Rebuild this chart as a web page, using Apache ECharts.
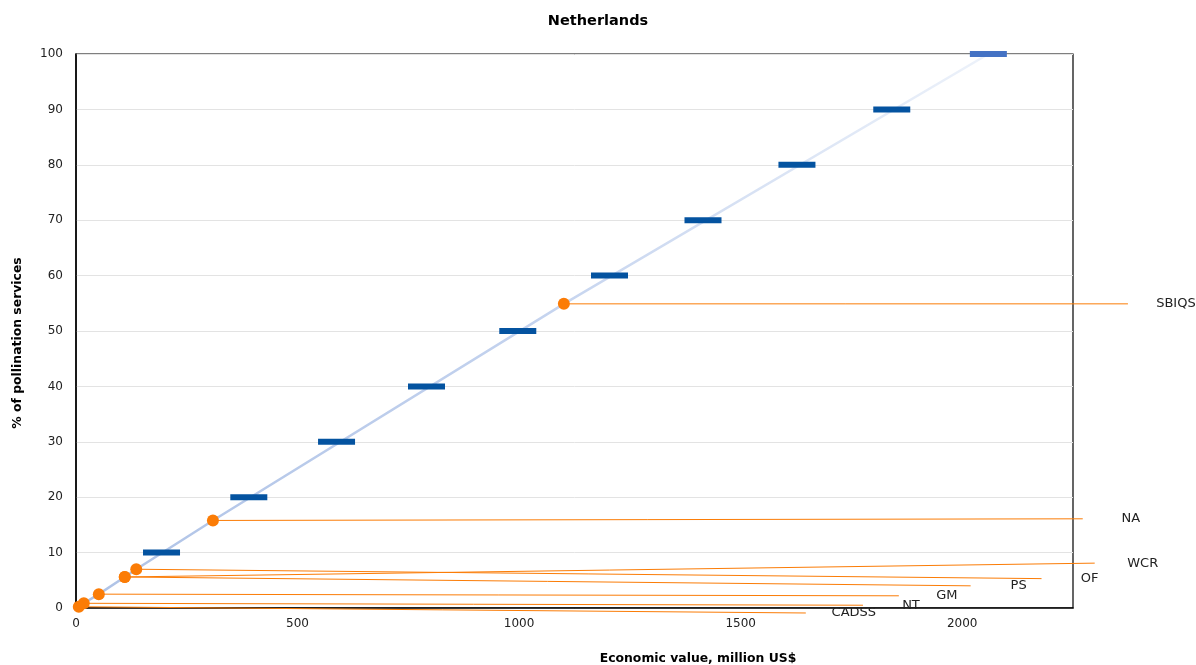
<!DOCTYPE html>
<html>
<head>
<meta charset="utf-8">
<script src="https://cdn.jsdelivr.net/npm/echarts@6/dist/echarts.min.js"></script>
<style>html,body{margin:0;padding:0;background:#fff}#chart{width:1196px;height:665px}</style>
</head>
<body>
<div id="chart"></div>
<script>
// Crop groups (points on the cumulative curve)
const crops = ['SBIQS', 'NA', 'WCR', 'OF', 'PS', 'GM', 'NT', 'CADSS'];
const cropValue = [1101, 309, 110, 136, 110, 51.5, 17.6, 6.3];   // million US$ (cumulative)
const cropShare = [54.9, 15.8, 5.6, 7.0, 5.6, 2.5, 0.85, 0.23];  // % of pollination services
// Callout label anchors (data units)
const calloutValue = [2374, 2272, 2299, 2179, 2019, 1857, 1776, 1647];
const calloutShare = [54.9, 16.1, 8.1, 5.3, 4.0, 2.2, 0.5, -0.9];
// Decile markers
const decileShare = [10, 20, 30, 40, 50, 60, 70, 80, 90, 100];
const decileValue = [193, 390, 588, 791, 997, 1204, 1415, 1627, 1841, 2059];
// Curve end points
const curveStart = [0, 0];
const curveEnd = [2059, 100];

const FONT = 'DejaVu Sans';
const ORANGE = '#fb7c06';

const curvePts = [curveStart];
cropValue.map((v, i) => [v, cropShare[i]]).sort((a, b) => a[0] - b[0] || a[1] - b[1]).forEach(p => curvePts.push(p));
curvePts.push(curveEnd);

const calloutData = crops.map((name, i) => [cropValue[i], cropShare[i], calloutValue[i], calloutShare[i]]);

const chart = echarts.init(document.getElementById('chart'), null, { renderer: 'canvas' });
chart.setOption({
  animation: false,
  backgroundColor: '#fff',
  title: {
    text: 'Netherlands', left: 'center', top: 9,
    textStyle: { fontFamily: FONT, fontSize: 14.5, fontWeight: 'bold', color: '#000' }
  },
  grid: { left: 76, right: 123, top: 54, bottom: 57, outerBoundsMode: 'none', containLabel: false,
          show: true, borderColor: '#000', borderWidth: 1.2 },
  xAxis: {
    type: 'value', min: 0, max: 2250, interval: 500,
    name: 'Economic value, million US$', nameLocation: 'middle', nameGap: 45,
    nameTextStyle: { fontFamily: FONT, fontSize: 12.4, fontWeight: 'bold', color: '#000', padding: [0, 0, 0, 247] },
    axisLine: { show: true, lineStyle: { color: '#000', width: 1.5 } },
    axisTick: { show: false },
    splitLine: { show: false },
    axisLabel: { fontFamily: FONT, fontSize: 12, color: '#222', showMaxLabel: false, margin: 10,
                 formatter: v => String(v) }
  },
  yAxis: {
    type: 'value', min: 0, max: 100, interval: 10,
    name: '% of pollination services', nameLocation: 'middle', nameGap: 52,
    nameTextStyle: { fontFamily: FONT, fontSize: 12.4, fontWeight: 'bold', color: '#000', padding: [0, 24, 0, 0] },
    axisLine: { show: true, lineStyle: { color: '#000', width: 1.5 } },
    axisTick: { show: false },
    splitLine: { show: true, lineStyle: { color: '#e3e3e3', width: 1 } },
    axisLabel: { fontFamily: FONT, fontSize: 12, color: '#222', margin: 13, formatter: v => String(v) }
  },
  series: [
    {
      type: 'line', name: 'cumulative', symbol: 'none', z: 2, silent: true,
      data: curvePts,
      lineStyle: {
        width: 2.5,
        color: new echarts.graphic.LinearGradient(0, 1, 0, 0, [
          { offset: 0, color: '#aec2e6' },
          { offset: 0.5, color: '#c3d2ee' },
          { offset: 1, color: '#edf2fa' }
        ])
      }
    },
    {
      type: 'custom', name: 'callouts', z: 3, silent: true, clip: false,
      encode: { x: [0, 2], y: [1, 3] },
      data: calloutData,
      renderItem: function (params, api) {
        const p0 = api.coord([api.value(0), api.value(1)]);
        const p1 = api.coord([api.value(2), api.value(3)]);
        return {
          type: 'group',
          children: [
            { type: 'line', shape: { x1: p0[0], y1: p0[1], x2: p1[0], y2: p1[1] },
              style: { stroke: ORANGE, lineWidth: 1 } },
            { type: 'text', style: { text: crops[params.dataIndex], x: p1[0] + 48, y: p1[1],
              align: 'center', verticalAlign: 'middle', font: '13px "DejaVu Sans"', fill: '#222' } }
          ]
        };
      }
    },
    {
      type: 'scatter', name: 'deciles', symbol: 'rect', symbolSize: [37, 6], z: 4,
      data: decileValue.map((v, i) => ({
        value: [v, decileShare[i]],
        itemStyle: { color: i === decileValue.length - 1 ? '#4472c4' : '#0453a0', opacity: 1 }
      })),
      itemStyle: { opacity: 1 }
    },
    {
      type: 'scatter', name: 'crops', symbol: 'circle', symbolSize: 12, z: 5,
      data: cropValue.map((v, i) => [v, cropShare[i]]),
      itemStyle: { color: ORANGE, opacity: 1 }
    }
  ]
});
</script>
</body>
</html>
